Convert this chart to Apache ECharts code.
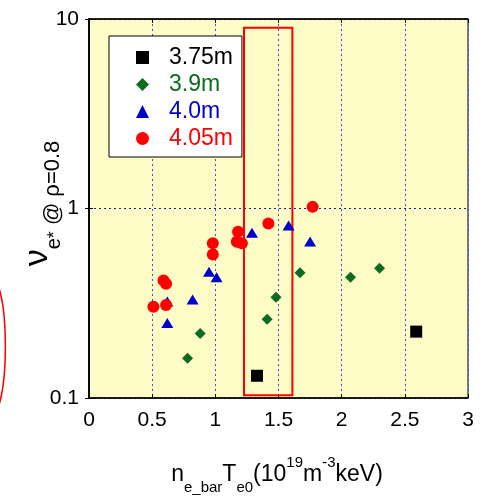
<!DOCTYPE html>
<html>
<head>
<meta charset="utf-8">
<script src="https://cdn.jsdelivr.net/npm/echarts@6/dist/echarts.min.js"></script>
<style>
  html, body { margin: 0; padding: 0; background: #fff; }
  #chart { width: 482px; height: 496px; }
</style>
</head>
<body>
<div id="chart"></div>
<script>
// Electron collisionality at rho=0.8 versus n_e_bar * T_e0, grouped by major radius
const seriesNames = ['3.75m', '3.9m', '4.0m', '4.05m'];
const seriesColors = ['#000000', '#0b6b1f', '#0000cc', '#ff0000'];
const seriesSymbols = ['rect', 'diamond', 'triangle', 'circle'];

const r375 = [[1.33, 0.131], [2.59, 0.224]];
const r39 = [[0.78, 0.162], [0.88, 0.219], [1.41, 0.260], [1.48, 0.340],
             [1.67, 0.458], [2.07, 0.434], [2.30, 0.484]];
const r40 = [[0.62, 0.323], [0.62, 0.249], [0.82, 0.331], [0.95, 0.463],
             [1.01, 0.434], [1.29, 0.744], [1.58, 0.813], [1.75, 0.670]];
const r405 = [[0.51, 0.303], [0.59, 0.417], [0.61, 0.401], [0.61, 0.310],
              [0.98, 0.656], [0.98, 0.572], [1.18, 0.753], [1.17, 0.667],
              [1.21, 0.656], [1.42, 0.834], [1.77, 1.02]];

const xTicks = { min: 0, max: 3, step: 0.5 };
const yRange = { min: 0.1, max: 10 };
// highlighted band of n_e_bar*T_e0 values
const band = [[1.227, 0.1035], [1.61, 8.99]];

const FONT = "'Liberation Sans', Arial, sans-serif";
const chart = echarts.init(document.getElementById('chart'));

const symSizes = [12, 11, [12, 10], 12];
const dataSets = [r375, r39, r40, r405];

const series = dataSets.map((d, i) => ({
  name: seriesNames[i],
  type: 'scatter',
  data: d,
  symbol: seriesSymbols[i],
  symbolSize: symSizes[i],
  itemStyle: { color: seriesColors[i], opacity: 1 },
  z: 3 + i,
  emphasis: { disabled: true }
}));

series[0].markArea = {
  silent: true,
  itemStyle: { color: 'rgba(0,0,0,0)', borderColor: '#ff0000', borderWidth: 2 },
  data: [[{ coord: band[0] }, { coord: band[1] }]]
};

const option = {
  animation: false,
  backgroundColor: '#ffffff',
  grid: {
    left: 89, top: 19, width: 379, height: 379,
    outerBoundsMode: 'none', containLabel: false,
    show: true, backgroundColor: '#fdfcc6', borderColor: '#000', borderWidth: 1
  },
  legend: {
    orient: 'vertical',
    left: 109, top: 36,
    padding: [10, 9, 7, 27],
    itemWidth: 13, itemHeight: 13, itemGap: 4,
    backgroundColor: '#ffffff', borderColor: '#000', borderWidth: 1,
    borderRadius: 0,
    selectedMode: false,
    textStyle: { fontFamily: FONT, fontSize: 23, lineHeight: 23, padding: [0, 0, 0, 15] },
    data: seriesNames.map((n, i) => ({ name: n, icon: seriesSymbols[i], textStyle: { color: seriesColors[i] } }))
  },
  xAxis: [{
    type: 'value', min: xTicks.min, max: xTicks.max, interval: xTicks.step,
    axisLine: { show: true, lineStyle: { color: '#000', width: 1.5 } },
    axisTick: { show: true, inside: true, length: 4, lineStyle: { color: '#000' } },
    axisLabel: { fontFamily: FONT, fontSize: 21, color: '#000', margin: 12 },
    splitLine: { show: true, lineStyle: { color: '#4a4ad8', type: [2, 3], width: 1 } },
    name: '{m|n}{sub|e_bar}{m|T}{sub|e0}{m|(10}{sup|19}{m|m}{sup|-3}{m|keV)}',
    nameLocation: 'middle', nameGap: 57, nameMoveOverlap: false,
    nameTextStyle: {
      fontFamily: FONT, color: '#000', padding: [0, 3, 0, 0],
      rich: {
        m: { fontFamily: FONT, fontSize: 23, color: '#000', lineHeight: 40, verticalAlign: 'middle' },
        sub: { fontFamily: FONT, fontSize: 15, color: '#000', lineHeight: 16, verticalAlign: 'bottom' },
        sup: { fontFamily: FONT, fontSize: 15, color: '#000', lineHeight: 16, verticalAlign: 'top' }
      }
    }
  }, {
    type: 'value', position: 'top', min: xTicks.min, max: xTicks.max, interval: xTicks.step,
    axisLine: { show: true, lineStyle: { color: '#000', width: 1.5 } },
    axisTick: { show: true, inside: true, length: 4, lineStyle: { color: '#000' } },
    axisLabel: { show: false }, splitLine: { show: false }
  }],
  yAxis: [{
    type: 'log', logBase: 10, min: yRange.min, max: yRange.max,
    axisLine: { show: true, lineStyle: { color: '#000', width: 1.5 } },
    axisTick: { show: true, inside: true, length: 4, lineStyle: { color: '#000' } },
    minorTick: { show: false },
    axisLabel: { fontFamily: FONT, fontSize: 21, color: '#000', margin: 10,
      formatter: v => (v < 1 ? v.toFixed(1) : String(Math.round(v))) },
    splitLine: { show: true, lineStyle: { color: '#1a1aa0', type: [2, 3], width: 1 } },
    name: '{nu|ν}{sub|e}{sup|*}{m| @ ρ=0.8}',
    nameLocation: 'middle', nameRotate: 90, nameGap: 25, nameMoveOverlap: false,
    nameTextStyle: {
      fontFamily: FONT, color: '#000', padding: [0, 0, 0, 10],
      rich: {
        nu: { fontFamily: FONT, fontSize: 34, color: '#000', lineHeight: 52, verticalAlign: 'middle' },
        m: { fontFamily: FONT, fontSize: 22, color: '#000', lineHeight: 46, verticalAlign: 'bottom' },
        sub: { fontFamily: FONT, fontSize: 20, color: '#000', lineHeight: 4, verticalAlign: 'bottom' },
        sup: { fontFamily: FONT, fontSize: 18, color: '#000', lineHeight: 24, verticalAlign: 'bottom' }
      }
    }
  }, {
    type: 'log', logBase: 10, min: yRange.min, max: yRange.max, position: 'right',
    axisLine: { show: true, lineStyle: { color: '#000', width: 1.5 } },
    axisTick: { show: true, inside: true, length: 4, lineStyle: { color: '#000' } },
    axisLabel: { show: false }, splitLine: { show: false }
  }],
  graphic: [{
    type: 'bezierCurve',
    shape: { x1: -1, y1: 288, cpx1: 7.5, cpy1: 315, cpx2: 7.5, cpy2: 377, x2: -1, y2: 405 },
    style: { fill: null, stroke: '#ff0000', lineWidth: 1.5 },
    silent: true
  }],
  series: series
};

chart.setOption(option);
</script>
</body>
</html>
